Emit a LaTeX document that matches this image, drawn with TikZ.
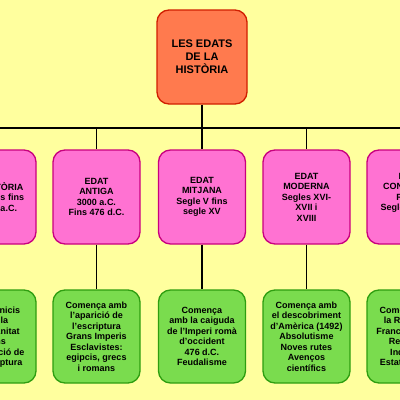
\documentclass[tikz,border=0pt]{standalone}
\usepackage{fontspec}
\setmainfont{Liberation Sans}
\definecolor{bgyellow}{HTML}{FFFF9E}
\definecolor{pinkfill}{HTML}{FF72D2}
\definecolor{pinkline}{HTML}{C8007E}
\definecolor{greenfill}{HTML}{7ADC4E}
\definecolor{greenline}{HTML}{2E9E10}
\definecolor{titlefill}{HTML}{FF7A4E}
\definecolor{titleline}{HTML}{D01E00}
\tikzset{
  boxbase/.style={rounded corners=12pt, line width=1.3pt, align=center, inner sep=0pt,
    font=\fontsize{9}{10.5}\selectfont\bfseries},
  pinkbox/.style={boxbase, draw=pinkline, fill=pinkfill, minimum width=87pt, minimum height=94pt},
  greenbox/.style={boxbase, draw=greenline, fill=greenfill, minimum width=87pt, minimum height=93pt},
  titlebox/.style={boxbase, draw=titleline, fill=titlefill, minimum width=90pt, minimum height=94pt,
    font=\fontsize{11}{13}\selectfont\bfseries},
  plaintext/.style={align=center, inner sep=0pt, font=\fontsize{9}{10.5}\selectfont\bfseries},
  conn/.style={line width=1.8pt, black}
}
\begin{document}
\begin{tikzpicture}[x=1pt,y=-1pt]
\useasboundingbox (0,0) rectangle (400,400);
\fill[bgyellow] (0,0) rectangle (400,400);

% title
\node[titlebox] (t) at (202,57) {LES EDATS\\DE LA\\HISTÒRIA};

% bus line
\coordinate (bl) at (-60,128);
\coordinate (br) at (460,128);
\coordinate (tb) at (202,128);

% pink boxes
\node[pinkbox] (p1) at (-7.5,197) {PREHISTÒRIA\\Dels inicis fins\\el 3000 a.C.};
\node[pinkbox] (p2) at (96.5,197) {EDAT\\ANTIGA\\3000 a.C.\\Fins 476 d.C.};
\node[pinkbox] (p3) at (202,197) {EDAT\\MITJANA\\Segle V fins\\segle XV};
\node[pinkbox] (p4) at (306.5,197) {EDAT\\MODERNA\\Segles XVI-\\XVII i\\XVIII};
\node[pinkbox] (p5) at (410.5,197) {EDAT\\CONTEMPO-\\RÀNIA\\Segle XIX fins\\avui};

% green boxes
\node[greenbox] (g1) at (-7.5,336.5) {};
\node[plaintext] (g1t) at (-2,337) {Dels inicis\\de la\\humanitat\\fins\\l'aparició de\\l'escriptura};
\node[greenbox] (g2) at (96.5,336.5) {Comença amb\\l'aparició de\\l'escriptura\\Grans Imperis\\Esclavistes:\\egipcis, grecs\\i romans};
\node[greenbox] (g3) at (202,336.5) {Comença\\amb la caiguda\\de l'Imperi romà\\d'occident\\476 d.C.\\Feudalisme};
\node[greenbox] (g4) at (306.5,336.5) {Comença amb\\el descobriment\\d'Amèrica (1492)\\Absolutisme\\Noves rutes\\Avenços\\científics};
\node[greenbox] (g5) at (410.5,336.5) {Comença amb\\la Revolució\\Francesa (1789)\\Revolució\\Industrial\\Estats liberals};

% connectors
\draw[conn] (bl) -- (br);
\draw[conn] (t.south) -- (tb);
\foreach \i in {1,...,5} {
  \draw[conn] (p\i.north |- bl) -- (p\i.north);
  \draw[conn] (p\i.south) -- (g\i.north);
}
\end{tikzpicture}
\end{document}
